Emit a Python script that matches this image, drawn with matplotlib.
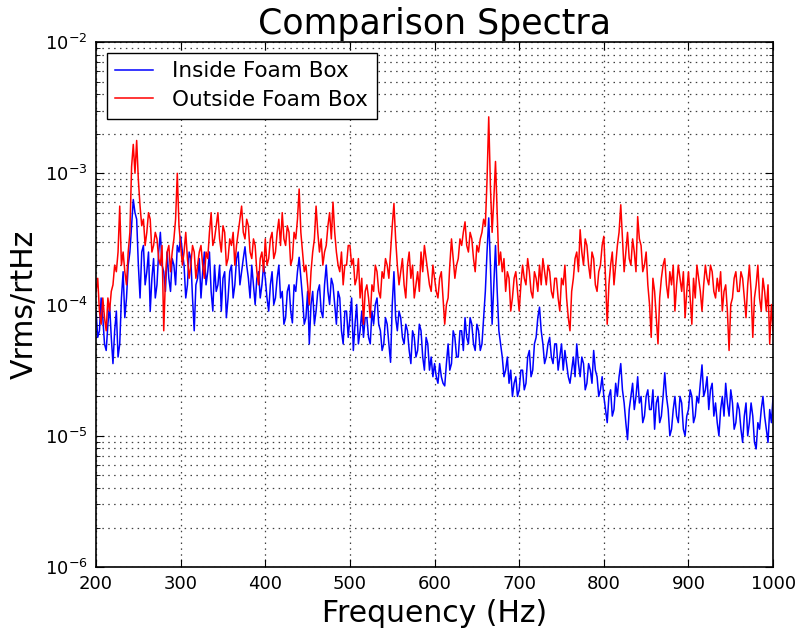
import numpy as np
import matplotlib
matplotlib.use('Agg')
import matplotlib.pyplot as plt
from matplotlib.ticker import LogLocator, MultipleLocator

# frequency grid, 2 Hz steps from 200 to 1000 Hz
freq = np.arange(200, 1001, 2)

# log10 of the spectra (one row = 40 Hz)
inside_log = [
    -4.05, -4.25, -4.2, -3.95, -4.1, -4.3, -4.35, -4.15, -4.0, -4.25, -4.45, -4.2, -4.05, -4.4, -4.3, -3.95, -3.75, -4.1, -3.95, -3.7,
    -3.6, -3.4, -3.2, -3.3, -3.35, -3.7, -3.95, -3.6, -3.55, -3.85, -3.75, -3.6, -4.05, -3.8, -3.65, -3.95, -3.85, -3.6, -3.45, -3.7,
    -3.75, -3.9, -3.6, -3.8, -3.9, -3.65, -3.7, -3.85, -3.55, -3.6, -3.48, -3.6, -3.7, -3.95, -3.85, -3.6, -3.65, -3.95, -4.2, -3.85,
    -3.8, -3.65, -3.95, -3.75, -3.6, -3.85, -3.75, -3.6, -3.9, -4.05, -3.7, -3.9, -3.85, -3.7, -4.05, -3.8, -3.75, -4.1, -3.95, -3.75,
    -3.7, -3.95, -3.85, -3.65, -3.6, -3.85, -3.75, -3.65, -3.56, -3.7, -3.8, -3.95, -3.7, -3.85, -4.0, -3.8, -3.75, -3.95, -3.85, -3.7,
    -3.8, -3.95, -4.05, -3.85, -3.75, -4.0, -3.95, -3.8, -3.7, -3.95, -3.9, -4.15, -4.1, -3.9, -3.85, -4.05, -4.14, -3.85, -3.9, -3.75,
    -3.64, -3.8, -3.95, -4.15, -4.1, -3.9, -4.3, -4.0, -3.9, -4.15, -4.05, -3.9, -3.85, -4.05, -4.1, -3.85, -3.7, -3.9, -4.0, -3.8,
    -3.85, -4.0, -4.15, -3.9, -3.95, -4.2, -4.3, -4.05, -4.05, -4.25, -4.1, -3.95, -4.35, -4.15, -4.0, -4.3, -4.2, -4.05, -4.25, -4.1,
    -4.1, -4.25, -4.3, -4.05, -4.15, -4.0, -3.95, -4.15, -4.2, -4.35, -4.3, -4.1, -4.15, -4.3, -4.44, -4.0, -3.75, -4.1, -4.2, -4.05,
    -4.1, -4.25, -4.3, -4.15, -4.2, -4.35, -4.45, -4.2, -4.25, -4.4, -4.35, -4.15, -4.2, -4.4, -4.5, -4.25, -4.3, -4.5, -4.4, -4.55,
    -4.45, -4.55, -4.6, -4.45, -4.55, -4.6, -4.62, -4.45, -4.3, -4.5, -4.45, -4.2, -4.25, -4.4, -4.4, -4.2, -4.2, -4.35, -4.1, -4.25,
    -4.3, -4.1, -4.15, -4.3, -4.35, -4.15, -4.2, -4.35, -4.3, -4.1, -3.9, -3.6, -3.34, -3.7, -4.15, -3.85, -3.55, -3.9, -4.2, -4.3,
    -4.4, -4.55, -4.5, -4.4, -4.6, -4.5, -4.7, -4.6, -4.55, -4.7, -4.65, -4.5, -4.5, -4.65, -4.6, -4.4, -4.35, -4.55, -4.5, -4.3,
    -4.25, -4.1, -4.02, -4.2, -4.3, -4.45, -4.4, -4.3, -4.25, -4.4, -4.45, -4.3, -4.3, -4.5, -4.4, -4.3, -4.5, -4.35, -4.45, -4.55,
    -4.6, -4.5, -4.4, -4.55, -4.3, -4.45, -4.55, -4.4, -4.45, -4.65, -4.6, -4.45, -4.5, -4.6, -4.35, -4.5, -4.55, -4.7, -4.65, -4.55,
    -4.7, -4.8, -4.9, -4.7, -4.65, -4.85, -4.8, -4.6, -4.7, -4.55, -4.45, -4.65, -4.75, -4.9, -5.03, -4.8, -4.7, -4.6, -4.8, -4.7,
    -4.55, -4.75, -4.7, -4.9, -4.85, -4.7, -4.65, -4.8, -4.8, -4.65, -4.95, -4.75, -4.7, -4.9, -4.85, -4.7, -4.52, -4.7, -4.8, -5.0,
    -4.95, -4.8, -4.7, -4.85, -4.9, -4.7, -4.75, -4.95, -5.0, -4.85, -4.8, -4.65, -4.7, -4.9, -4.85, -4.7, -4.75, -4.6, -4.46, -4.7,
    -4.65, -4.55, -4.8, -4.65, -4.6, -4.85, -4.75, -4.9, -5.0, -4.8, -4.7, -4.85, -4.6, -4.75, -4.85, -4.65, -4.75, -4.95, -4.9, -4.75,
    -4.8, -4.95, -5.05, -4.85, -4.75, -5.0, -4.9, -4.75, -4.85, -5.05, -5.1, -4.9, -4.95, -4.8, -4.7, -4.85, -4.95, -5.05, -4.8, -4.9,
    -4.7,
]

outside_log = [
    -3.9, -3.8, -4.05, -4.15, -3.95, -4.1, -4.2, -3.95, -4.05, -3.9, -3.85, -3.7, -3.75, -3.6, -3.25, -3.7, -3.6, -3.75, -3.85, -3.6,
    -3.45, -2.95, -2.78, -3.0, -2.75, -3.05, -3.25, -3.4, -3.35, -3.55, -3.45, -3.3, -3.35, -3.6, -3.55, -3.45, -3.5, -3.65, -3.7, -3.55,
    -4.2, -3.8, -3.6, -3.55, -3.75, -3.6, -3.5, -3.35, -3.0, -3.4, -3.55, -3.7, -3.6, -3.45, -3.65, -3.8, -3.7, -3.55, -3.6, -3.8,
    -3.7, -3.6, -3.55, -3.7, -3.8, -3.6, -3.65, -3.45, -3.3, -3.55, -3.5, -3.4, -3.3, -3.5, -3.6, -3.4, -3.45, -3.7, -3.65, -3.5,
    -3.55, -3.45, -3.7, -3.55, -3.45, -3.35, -3.25, -3.45, -3.5, -3.35, -3.4, -3.6, -3.65, -3.5, -3.55, -3.75, -3.85, -3.65, -3.6, -3.75,
    -3.5, -3.7, -3.65, -3.5, -3.45, -3.65, -3.6, -3.45, -3.35, -3.55, -3.3, -3.5, -3.55, -3.4, -3.45, -3.7, -3.65, -3.45, -3.5, -3.35,
    -3.12, -3.45, -3.6, -3.75, -3.7, -3.85, -4.0, -3.75, -3.6, -3.5, -3.25, -3.45, -3.6, -3.5, -3.7, -3.6, -3.55, -3.4, -3.3, -3.5,
    -3.22, -3.45, -3.6, -3.7, -3.75, -3.6, -3.85, -3.7, -3.7, -3.55, -3.55, -3.7, -3.65, -3.85, -3.8, -3.65, -3.95, -3.8, -4.15, -3.9,
    -3.85, -3.95, -4.1, -3.85, -3.9, -3.7, -3.75, -3.9, -3.95, -3.75, -3.8, -3.65, -3.7, -3.8, -3.6, -3.4, -3.23, -3.5, -3.7, -3.85,
    -3.75, -3.65, -3.85, -3.95, -3.7, -3.6, -3.8, -3.7, -3.95, -3.85, -3.75, -3.9, -3.6, -3.75, -3.55, -3.65, -3.75, -3.85, -3.9, -3.7,
    -3.8, -3.9, -3.95, -3.8, -3.75, -3.95, -4.15, -4.0, -3.95, -3.7, -3.5, -3.65, -3.8, -3.7, -3.65, -3.5, -3.55, -3.45, -3.37, -3.55,
    -3.6, -3.45, -3.5, -3.65, -3.75, -3.55, -3.6, -3.5, -3.45, -3.35, -3.4, -3.05, -2.57, -3.1, -3.45, -3.2, -2.91, -3.3, -3.7, -3.6,
    -3.75, -3.65, -3.9, -3.75, -3.8, -4.05, -3.95, -3.8, -3.75, -3.9, -4.05, -3.85, -3.7, -3.8, -3.85, -3.65, -3.75, -3.9, -3.95, -3.75,
    -3.8, -3.9, -3.7, -3.85, -3.65, -3.75, -3.85, -3.7, -3.75, -3.9, -3.95, -3.8, -3.8, -3.95, -4.05, -3.8, -3.85, -3.7, -3.95, -4.1,
    -4.2, -3.9, -3.8, -3.65, -3.6, -3.75, -3.43, -3.6, -3.7, -3.5, -3.55, -3.7, -3.8, -3.6, -3.65, -3.85, -3.9, -3.75, -3.7, -3.55,
    -3.48, -3.8, -4.15, -3.85, -3.7, -3.6, -3.85, -3.7, -3.55, -3.45, -3.24, -3.5, -3.75, -3.6, -3.45, -3.65, -3.7, -3.5, -3.6, -3.75,
    -3.33, -3.5, -3.55, -3.75, -3.7, -3.6, -3.85, -4.0, -4.25, -3.8, -3.9, -4.1, -4.3, -3.95, -3.8, -3.7, -3.65, -3.85, -3.95, -3.75,
    -3.85, -3.7, -4.05, -3.85, -3.7, -3.8, -3.9, -3.75, -4.1, -3.9, -3.75, -3.95, -4.15, -3.8, -3.95, -3.7, -3.8, -3.9, -4.05, -3.85,
    -3.7, -3.8, -3.85, -3.7, -3.75, -3.9, -3.95, -3.8, -3.9, -3.75, -4.05, -3.9, -3.85, -4.05, -4.35, -4.0, -3.95, -3.8, -3.75, -3.9,
    -3.9, -3.75, -3.8, -3.95, -4.1, -3.85, -3.7, -3.9, -4.25, -3.95, -3.85, -3.7, -3.95, -4.05, -3.8, -3.9, -4.05, -3.85, -4.3, -4.0,
    -4.2,
]

inside = 10.0 ** np.array(inside_log)
outside = 10.0 ** np.array(outside_log)

fig = plt.figure(figsize=(7.97, 6.32), dpi=100)
ax = fig.add_axes([0.1205, 0.1028, 0.8495, 0.8307])

ax.plot(freq, inside, color='b', linewidth=1.1, label='Inside Foam Box')
ax.plot(freq, outside, color='r', linewidth=1.1, label='Outside Foam Box')

ax.set_yscale('log')
ax.set_xlim(200, 1000)
ax.set_ylim(1e-6, 1e-2)
ax.xaxis.set_major_locator(MultipleLocator(100))
ax.yaxis.set_major_locator(LogLocator(base=10))
ax.yaxis.set_minor_locator(LogLocator(base=10, subs=np.arange(2, 10)))

dotted = (0, (1.2, 3.5))
ax.grid(True, which='major', linestyle=dotted, color='0.25', linewidth=0.9)
ax.grid(True, which='minor', axis='y', linestyle=dotted, color='0.25', linewidth=0.9)

ax.tick_params(which='both', direction='in', top=True, right=True)
ax.tick_params(which='major', length=6, labelsize=13, pad=6)
ax.tick_params(which='minor', length=3)
for s in ax.spines.values():
    s.set_linewidth(1.2)

ax.set_title('Comparison Spectra', fontsize=25, pad=6)
ax.set_xlabel('Frequency (Hz)', fontsize=21.5)
ax.set_ylabel('Vrms/rtHz', fontsize=21.5)

leg = ax.legend(loc='upper left', fontsize=15.5, fancybox=False, framealpha=1,
                edgecolor='k', handlelength=1.75, handletextpad=0.9,
                borderaxespad=0.5, labelspacing=0.4)
leg.get_frame().set_linewidth(1.0)

fig.savefig('out.png', dpi=100)
